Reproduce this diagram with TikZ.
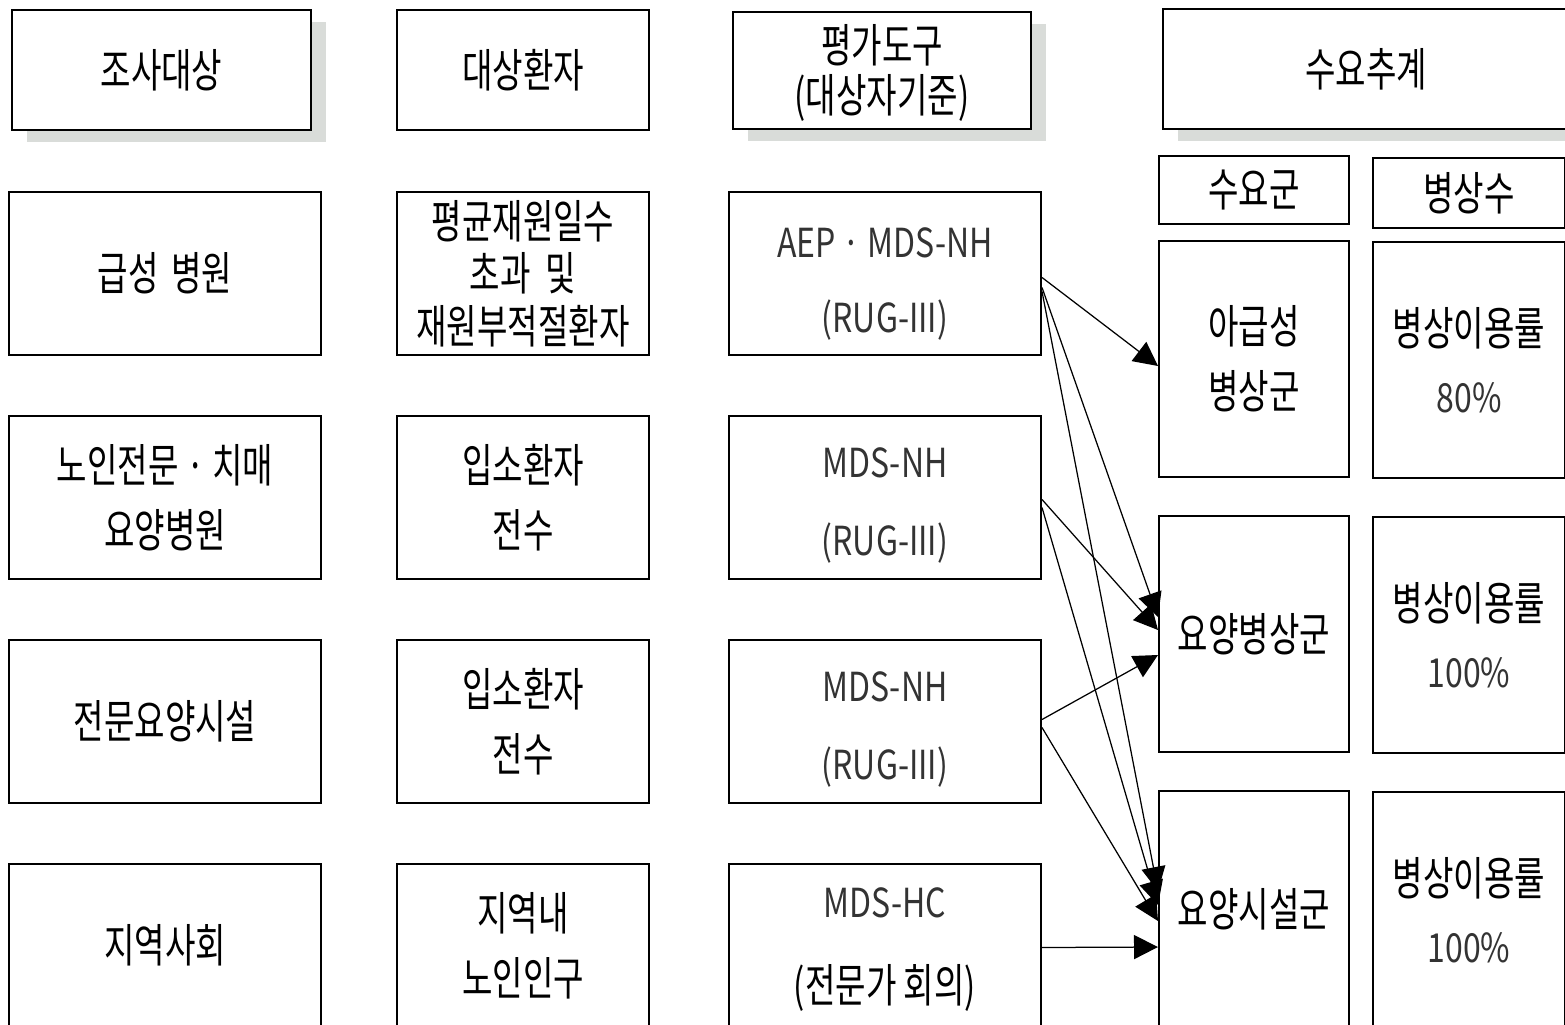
\documentclass[tikz,border=0pt]{standalone}
\usepackage{fontspec}
\setmainfont{Noto Sans CJK KR}[FakeStretch=0.72]
\newfontfamily\latinfont{Noto Sans CJK KR}[FakeStretch=0.8]
\usetikzlibrary{arrows.meta,shadows,calc}

\definecolor{shadowgrey}{HTML}{D9DCD9}
\definecolor{textgrey}{HTML}{333333}

\newcommand{\lat}[1]{{\latinfont\fontsize{16pt}{26pt}\selectfont\color{textgrey}#1}}
\newcommand{\lift}[1]{\rule{0pt}{#1}}

\tikzset{
  box/.style={draw,line width=0.8pt,fill=white,inner sep=0pt,align=center,
    font=\fontsize{18.4pt}{26pt}\selectfont},
  headbox/.style={box,minimum height=48pt},
  shadowed/.style={drop shadow={shadow xshift=6pt,shadow yshift=-4.8pt,
    fill=shadowgrey,opacity=1}},
  sitebox/.style={box,minimum width=124.8pt,minimum height=65.2pt},
  patbox/.style={box,minimum width=100.8pt,minimum height=65.2pt},
  toolbox/.style={box,minimum width=124.8pt,minimum height=65.2pt},
  grpbox/.style={box,minimum width=76pt,minimum height=94.4pt},
  bedbox/.style={box,minimum width=76.8pt,minimum height=94.4pt}
}

\begin{document}
\begin{tikzpicture}[x=0.4pt,y=-0.4pt,->,>={Triangle[length=9.6pt,width=9.6pt]},
    line width=0.5pt,node distance=89.6pt]

  \useasboundingbox (0,0) rectangle (1565,1025);

  % headers
  \node[headbox,shadowed,minimum width=119.6pt] (head_1) at (161.5,70) {조사대상};
  \node[headbox,minimum width=100.8pt] (head_2) at (523,70.5) {대상환자};
  \node[headbox,shadowed,minimum width=119.2pt,minimum height=46.8pt,
    font=\fontsize{18.4pt}{20pt}\selectfont] (head_3) at (882,70.5) {\lift{17pt}평가도구\\(대상자기준)};
  \node[headbox,shadowed,minimum width=162.4pt] (head_4) at (1366,69.5) {수요추계};

  % survey sites
  \node[sitebox] (site_1) at (165,273.5) {급성\hspace{5pt}병원};
  \node[sitebox] (site_2) [below of=site_1] {노인전문 · 치매\\요양병원};
  \node[sitebox] (site_3) [below of=site_2] {전문요양시설};
  \node[sitebox] (site_4) [below of=site_3] {지역사회};

  % patients
  \node[patbox,font=\fontsize{18.4pt}{21pt}\selectfont] (pat_1) at (523,273.5)
    {평균재원일수\\초과\hspace{6pt}및\\재원부적절환자};
  \node[patbox] (pat_2) [below of=pat_1] {입소환자\\전수};
  \node[patbox] (pat_3) [below of=pat_2] {입소환자\\전수};
  \node[patbox] (pat_4) [below of=pat_3] {지역내\\노인인구};

  % tools
  \node[toolbox] (tool_1) at (885,273.5) {\lift{20pt}\lat{AEP · MDS-NH}\\[4pt]\lat{(RUG-III)}};
  \node[toolbox] (tool_2) [below of=tool_1] {\lift{18.5pt}\lat{MDS-NH}\\[5pt]\lat{(RUG-III)}};
  \node[toolbox] (tool_3) [below of=tool_2] {\lift{18.5pt}\lat{MDS-NH}\\[5pt]\lat{(RUG-III)}};
  \node[toolbox] (tool_4) [below of=tool_3] {\lift{15pt}\lat{MDS-HC}\\[8pt](전문가 회의)};

  % demand groups and beds
  \node[box,minimum width=76pt,minimum height=27.2pt] (grp_h) at (1254,190) {수요군};
  \node[box,minimum width=76.8pt,minimum height=28pt] (bed_h) at (1469,193) {병상수};

  \node[grpbox] (grp_1) at (1254,359) {아급성\\병상군};
  \node[grpbox] (grp_2) [below of=grp_1,node distance=110pt] {요양병상군};
  \node[grpbox] (grp_3) [below of=grp_2,node distance=110pt] {요양시설군};

  \node[bedbox] (bed_1) at (1469,360) {병상이용률\\[1pt]\lat{80\%}};
  \node[bedbox] (bed_2) [below of=bed_1,node distance=110pt] {병상이용률\\[1pt]\lat{100\%}};
  \node[bedbox] (bed_3) [below of=bed_2,node distance=110pt] {병상이용률\\[1pt]\lat{100\%}};

  \path ($(tool_1.east)+(0,4)$) edge ($(grp_1.west)+(0,7)$)
        ($(tool_1.east)+(0,14)$) edge ($(grp_2.west)+(0,-17)$)
        ($(tool_1.east)+(0,18)$) edge ($(grp_3.west)+(0,-18)$)
        ($(tool_2.east)+(0,2)$) edge ($(grp_2.west)+(0,-4)$)
        ($(tool_2.east)+(0,10)$) edge ($(grp_3.west)+(0,-4)$)
        ($(tool_3.east)+(0,-2)$) edge ($(grp_2.west)+(0,21)$)
        ($(tool_3.east)+(0,6)$) edge ($(grp_3.west)+(0,12)$)
        ($(tool_4.east)+(0,2)$) edge ($(grp_3.west)+(0,38)$);

\end{tikzpicture}
\end{document}
